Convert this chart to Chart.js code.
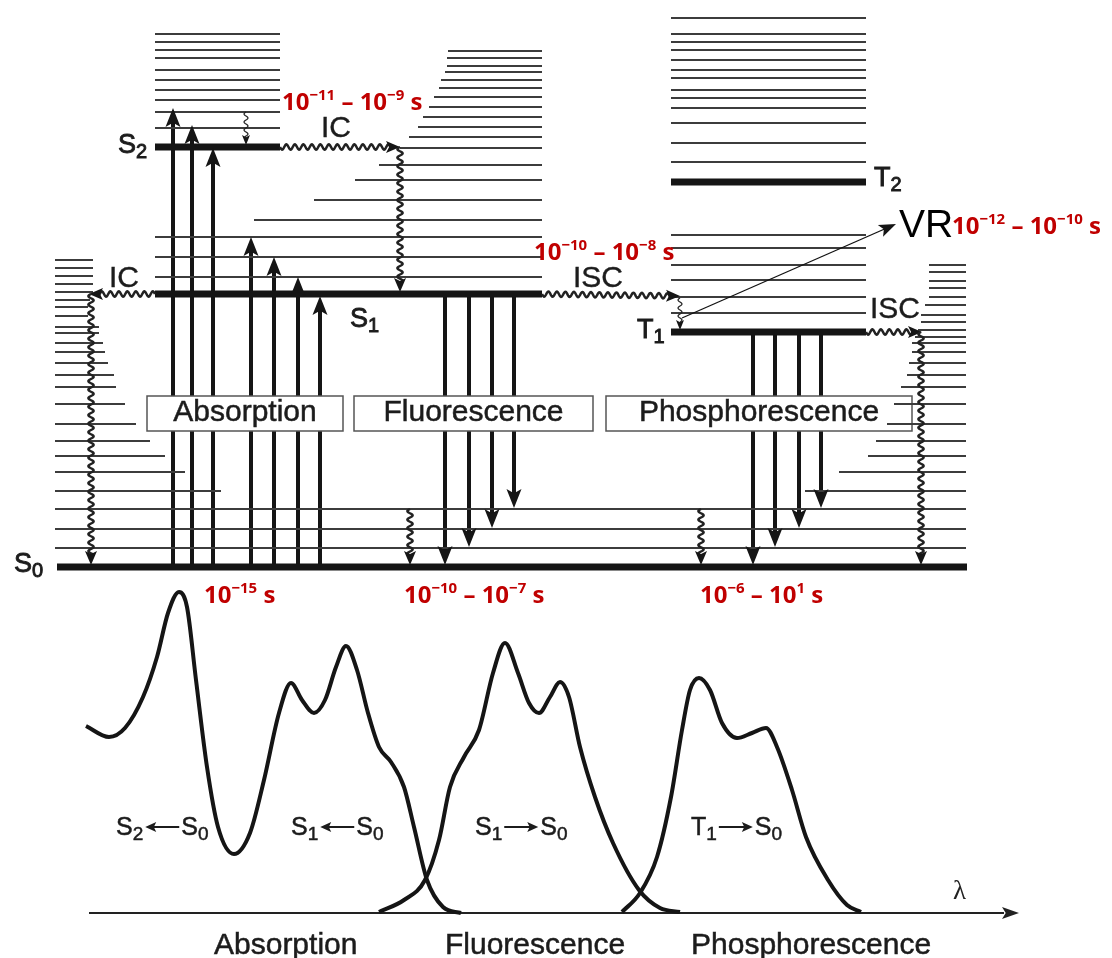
<!DOCTYPE html>
<html>
<head>
<meta charset="utf-8">
<script src="https://cdn.jsdelivr.net/npm/chart.js@4/dist/chart.umd.min.js"></script>
<style>
  html, body { margin: 0; padding: 0; background: #fff; }
  #wrap { width: 1112px; height: 958px; position: relative; }
</style>
</head>
<body>
<div id="wrap"><canvas id="jablonski"></canvas></div>
<script>
// main electronic levels (diagram units, y grows downward)
const levelNames = ["S", "S", "S", "T", "T"];
const levelSubs = ["0", "1", "2", "1", "2"];
const levelY = [567, 294, 147, 332, 182];
const levelFrom = [57, 155, 155, 671, 671];
const levelTo = [967, 542, 280, 866, 866];

// vibrational sublevels
const s2VibY = [34, 42, 50, 58, 70, 80, 90, 100, 112, 128];
const s1VibY = [51, 58, 66, 72, 80, 88, 97, 107, 117, 127, 137, 148, 165, 180, 200, 220, 237, 257, 277];
const s1VibStart = [448, 447, 447, 445, 441, 439, 434, 429, 423, 418, 409, 400, 379, 355, 314, 254, 155, 155, 155];
const t2VibY = [18, 34, 42, 50, 60, 70, 78, 90, 98, 108, 123, 143, 162];
const t1VibY = [235, 248, 265, 280, 297, 313];
const s0VibY = [509, 529, 548];
const s0LeftY = [260, 268, 276, 284, 292, 300, 307, 316, 327, 333, 343, 352, 363, 375, 387, 404, 424, 441, 456, 472, 491];
const s0LeftEnd = [93, 93, 93, 93, 93, 90, 88, 88, 99, 99, 103, 105, 108, 114, 116, 125, 136, 150, 165, 185, 221];
const s0RightY = [265, 272, 281, 288, 297, 305, 315, 322, 330, 337, 343, 352, 363, 375, 387, 404, 424, 441, 456, 472, 491];
const s0RightStart = [929, 929, 929, 929, 929, 925, 921, 921, 918, 915, 912, 912, 909, 907, 901, 894, 887, 876, 868, 839, 805];

// radiative transitions
const absorptionX = [173, 192, 213, 251, 274, 298, 320];
const absorptionTop = [108, 125, 148, 237, 257, 277, 296];
const fluorescenceX = [445, 469, 492, 514];
const fluorescenceEnd = [565, 547, 528, 508];
const phosphorescenceX = [753, 775, 799, 821];
const phosphorescenceEnd = [565, 547, 528, 508];

// non-radiative (wavy) transitions: IC, ISC, VR
const waveFrom = [[280, 147], [400, 147], [155, 294], [91, 294], [542, 294], [866, 332], [921, 332], [410, 509], [701, 509]];
const waveTo = [[400, 147], [400, 292], [89, 294], [91, 565], [680, 296], [922, 332], [921, 565], [410, 565], [701, 565]];
const vrFrom = [[246, 112], [680, 298]];
const vrTo = [[246, 145], [680, 330]];
const vrPointer = [[682, 318], [896, 224]];

// spectra
const absSpecX = [86, 109, 125, 143, 157, 168, 179, 187, 196, 207, 218, 234, 250, 264, 279, 291, 302, 314, 325, 336, 346, 357, 368, 379, 391, 404, 414, 427, 443, 461];
const absSpecY = [726, 737, 728, 697, 657, 613, 592, 607, 680, 767, 827, 854, 833, 780, 713, 683, 700, 713, 700, 667, 646, 670, 713, 747, 762, 787, 827, 880, 907, 913];
const fluSpecX = [379, 404, 425, 439, 450, 464, 479, 493, 505, 518, 529, 539, 550, 560, 569, 580, 595, 613, 639, 660, 680];
const fluSpecY = [912, 900, 880, 840, 787, 757, 730, 673, 643, 673, 703, 713, 697, 682, 697, 747, 797, 843, 890, 908, 912];
const phoSpecX = [622, 640, 657, 671, 682, 690, 699, 710, 722, 737, 752, 766, 777, 792, 806, 828, 847, 861];
const phoSpecY = [912, 893, 857, 797, 730, 690, 678, 690, 723, 738, 733, 728, 747, 790, 837, 880, 905, 912];
const axisLine = [[89, 913], [1004, 913]];

// texts
const processNames = ["Absorption", "Fluorescence", "Phosphorescence"];
const processBoxes = [[147, 396, 343, 431], [354, 396, 593, 431], [606, 396, 912, 431]];
const bottomLabelX = [214, 445, 691];
const timeExponents = [[-11, -9], [-10, -8], [-12, -10], [-15, null], [-10, -7], [-6, 1]];
const timePos = [[282, 110], [534, 260], [952, 234], [204, 603], [404, 603], [700, 603]];
const levelLabelPos = [[14, 572], [350, 327], [118, 153], [637, 338], [874, 186]];
const transferLabels = [["IC", 321, 137], ["IC", 109, 287], ["ISC", 573, 287], ["ISC", 870, 318]];
const bandLabels = [["S", "2", "left", "S", "0", 116], ["S", "1", "left", "S", "0", 291], ["S", "1", "right", "S", "0", 475], ["T", "1", "right", "S", "0", 691]];

const INK = "#151515";
const TEXT = "#1c1c1c";
const RED = "#c00000";
const SANS = "'Liberation Sans', Arial, sans-serif";

function segs(list) {
  const pts = [];
  list.forEach(([x1, y1, x2, y2]) => {
    pts.push({ x: x1, y: y1 }, { x: x2, y: y2 }, { x: null, y: null });
  });
  return pts;
}

const thinList = [];
s2VibY.forEach((y) => thinList.push([155, y, 280, y]));
s1VibY.forEach((y, i) => thinList.push([s1VibStart[i], y, 542, y]));
t2VibY.forEach((y) => thinList.push([671, y, 866, y]));
t1VibY.forEach((y) => thinList.push([671, y, 866, y]));
s0VibY.forEach((y) => thinList.push([55, y, 966, y]));
s0LeftY.forEach((y, i) => thinList.push([55, y, s0LeftEnd[i], y]));
s0RightY.forEach((y, i) => thinList.push([s0RightStart[i], y, 966, y]));

const thickList = levelY.map((y, i) => [levelFrom[i], y, levelTo[i], y]);

const shaftList = [];
absorptionX.forEach((x, i) => shaftList.push([x, 567, x, absorptionTop[i] + 10]));
fluorescenceX.forEach((x, i) => shaftList.push([x, 294, x, fluorescenceEnd[i] - 10]));
phosphorescenceX.forEach((x, i) => shaftList.push([x, 332, x, phosphorescenceEnd[i] - 10]));

function curve(xs, ys) {
  return xs.map((x, i) => ({ x: x, y: ys[i] }));
}

const lineBase = { showLine: true, pointRadius: 0, fill: false, spanGaps: false, borderCapStyle: "butt" };

const datasets = [
  Object.assign({}, lineBase, { label: "shafts", data: segs(shaftList), borderColor: INK, borderWidth: 4, order: 5 }),
  Object.assign({}, lineBase, { label: "vibrational", data: segs(thinList), borderColor: "#3c3c3c", borderWidth: 2, order: 1 }),
  Object.assign({}, lineBase, { label: "levels", data: segs(thickList), borderColor: INK, borderWidth: 7, order: 0 }),
  Object.assign({}, lineBase, { label: "absorption", data: curve(absSpecX, absSpecY), borderColor: INK, borderWidth: 4, cubicInterpolationMode: "monotone", order: 0 }),
  Object.assign({}, lineBase, { label: "fluorescence", data: curve(fluSpecX, fluSpecY), borderColor: INK, borderWidth: 4, cubicInterpolationMode: "monotone", order: 0 }),
  Object.assign({}, lineBase, { label: "phosphorescence", data: curve(phoSpecX, phoSpecY), borderColor: INK, borderWidth: 4, cubicInterpolationMode: "monotone", order: 0 }),
  Object.assign({}, lineBase, { label: "axis", data: curve(axisLine.map((p) => p[0]), axisLine.map((p) => p[1])), borderColor: "#222", borderWidth: 2, order: 0 }),
];

function head(ctx, tx, ty, dx, dy, L, W) {
  const bx = tx - dx * L, by = ty - dy * L;
  const nx = -dy, ny = dx;
  ctx.beginPath();
  ctx.moveTo(tx, ty);
  ctx.lineTo(bx + nx * W / 2, by + ny * W / 2);
  ctx.lineTo(tx - dx * L * 0.78, ty - dy * L * 0.78);
  ctx.lineTo(bx - nx * W / 2, by - ny * W / 2);
  ctx.closePath();
  ctx.fill();
}

function wavy(ctx, x1, y1, x2, y2, amp, wl) {
  const dx = x2 - x1, dy = y2 - y1, len = Math.hypot(dx, dy);
  if (len < 1) return;
  const ux = dx / len, uy = dy / len;
  ctx.beginPath();
  for (let s = 0; s <= len; s += 0.5) {
    const o = amp * Math.sin((2 * Math.PI * s) / wl);
    const X = x1 + ux * s - uy * o, Y = y1 + uy * s + ux * o;
    if (s === 0) ctx.moveTo(X, Y); else ctx.lineTo(X, Y);
  }
  ctx.stroke();
}

// text with sub/superscripts; optional faux-medium weight via thin stroke
function rich(ctx, x, y, parts, size, family, weight, subScale, heavy) {
  let cx = x;
  parts.forEach(([t, kind]) => {
    const fs = kind === "n" ? size : Math.round(size * (subScale || 0.64));
    const dy = kind === "sub" ? size * 0.2 : kind === "sup" ? -size * 0.42 : 0;
    ctx.font = `${weight} ${fs}px ${family}`;
    ctx.fillText(t, cx, y + dy);
    if (heavy) ctx.strokeText(t, cx, y + dy);
    cx += ctx.measureText(t).width;
  });
  return cx;
}

function heavyText(ctx, t, x, y) {
  ctx.fillText(t, x, y);
  ctx.strokeText(t, x, y);
}

function expText(e) {
  return e < 0 ? "\u2212" + Math.abs(e) : String(e);
}

const diagramPlugin = {
  id: "diagram",
  afterDatasetDraw(chart, args) {
    if (args.index !== 0) return;
    const { ctx } = chart;
    const px = (v) => chart.scales.x.getPixelForValue(v);
    const py = (v) => chart.scales.y.getPixelForValue(v);
    ctx.save();
    processBoxes.forEach(([x1, y1, x2, y2], i) => {
      ctx.fillStyle = "#fff";
      ctx.fillRect(px(x1), py(y1), px(x2) - px(x1), py(y2) - py(y1));
      ctx.strokeStyle = "#555";
      ctx.lineWidth = 1.5;
      ctx.strokeRect(px(x1), py(y1), px(x2) - px(x1), py(y2) - py(y1));
      ctx.fillStyle = TEXT;
      ctx.strokeStyle = TEXT;
      ctx.lineWidth = 0.5;
      ctx.font = `30px ${SANS}`;
      ctx.textAlign = "center";
      heavyText(ctx, processNames[i], (px(x1) + px(x2)) / 2, py(421));
    });
    ctx.restore();
  },
  afterDatasetsDraw(chart) {
    const { ctx } = chart;
    const px = (v) => chart.scales.x.getPixelForValue(v);
    const py = (v) => chart.scales.y.getPixelForValue(v);
    ctx.save();
    ctx.fillStyle = INK;

    // radiative arrow heads
    absorptionX.forEach((x, i) => head(ctx, px(x), py(absorptionTop[i]), 0, -1, 19, 15));
    fluorescenceX.forEach((x, i) => head(ctx, px(x), py(fluorescenceEnd[i]), 0, 1, 19, 15));
    phosphorescenceX.forEach((x, i) => head(ctx, px(x), py(phosphorescenceEnd[i]), 0, 1, 19, 15));

    // wavy non-radiative arrows
    ctx.strokeStyle = "#222";
    ctx.lineWidth = 2.5;
    waveFrom.forEach((f, i) => {
      const x1 = px(f[0]), y1 = py(f[1]), x2 = px(waveTo[i][0]), y2 = py(waveTo[i][1]);
      const len = Math.hypot(x2 - x1, y2 - y1);
      const ux = (x2 - x1) / len, uy = (y2 - y1) / len;
      wavy(ctx, x1, y1, x2 - ux * 10, y2 - uy * 10, 2.6, 8.5);
      head(ctx, x2, y2, ux, uy, 14, 12);
    });
    ctx.lineWidth = 1.2;
    vrFrom.forEach((f, i) => {
      const x1 = px(f[0]), y1 = py(f[1]), x2 = px(vrTo[i][0]), y2 = py(vrTo[i][1]);
      wavy(ctx, x1, y1, x2, y2 - 8, 2, 8);
      head(ctx, x2, y2, 0, 1, 10, 8);
    });

    // VR pointer
    ctx.strokeStyle = "#111";
    ctx.lineWidth = 1.3;
    const [a, b] = vrPointer;
    const ax = px(a[0]), ay = py(a[1]), bx = px(b[0]), by = py(b[1]);
    const pl = Math.hypot(bx - ax, by - ay);
    ctx.beginPath();
    ctx.moveTo(ax, ay);
    ctx.lineTo(bx - ((bx - ax) / pl) * 10, by - ((by - ay) / pl) * 10);
    ctx.stroke();
    head(ctx, bx, by, (bx - ax) / pl, (by - ay) / pl, 17, 13);

    // spectrum axis arrow
    ctx.fillStyle = "#222";
    head(ctx, px(1019), py(913), 1, 0, 17, 12);

    // level labels
    ctx.fillStyle = TEXT;
    ctx.strokeStyle = TEXT;
    ctx.lineWidth = 0.9;
    ctx.textAlign = "left";
    ctx.textBaseline = "alphabetic";
    levelLabelPos.forEach(([x, y], i) => {
      rich(ctx, px(x), py(y), [[levelNames[i], "n"], [levelSubs[i], "sub"]], 27, SANS, "normal", 0.74, true);
    });

    // IC / ISC
    ctx.lineWidth = 0.4;
    ctx.font = `30px ${SANS}`;
    transferLabels.forEach(([t, x, y]) => heavyText(ctx, t, px(x), py(y)));

    // VR and lambda
    ctx.font = `39px ${SANS}`;
    ctx.fillStyle = "#000";
    ctx.fillText("VR", px(899), py(237));
    ctx.fillStyle = "#222";
    ctx.font = "27px 'Liberation Serif', 'DejaVu Serif', serif";
    ctx.fillText("\u03bb", px(953), py(899));

    // band labels under spectra
    ctx.fillStyle = TEXT;
    ctx.strokeStyle = TEXT;
    bandLabels.forEach(([s1, sub1, dir, s2, sub2, x]) => {
      ctx.lineWidth = 0.5;
      let cx = rich(ctx, px(x), py(835), [[s1, "n"], [sub1, "sub"]], 25, SANS, "normal", 0.74, true);
      const x0 = cx + 2, x1 = cx + 36, yy = py(827);
      ctx.lineWidth = 2;
      ctx.beginPath();
      if (dir === "left") {
        ctx.moveTo(x0 + 8, yy); ctx.lineTo(x1, yy); ctx.stroke();
        head(ctx, x0, yy, -1, 0, 11, 10);
      } else {
        ctx.moveTo(x0, yy); ctx.lineTo(x1 - 8, yy); ctx.stroke();
        head(ctx, x1, yy, 1, 0, 11, 10);
      }
      ctx.lineWidth = 0.5;
      rich(ctx, x1 + 2, py(835), [[s2, "n"], [sub2, "sub"]], 25, SANS, "normal", 0.74, true);
    });

    // bottom process labels
    ctx.lineWidth = 0.5;
    ctx.font = `30px ${SANS}`;
    processNames.forEach((n, i) => heavyText(ctx, n, px(bottomLabelX[i]), py(954)));

    // red time scales
    ctx.fillStyle = RED;
    timeExponents.forEach(([e1, e2], i) => {
      const parts = [["10", "n"], [expText(e1), "sup"]];
      if (e2 !== null) parts.push([" \u2013 10", "n"], [expText(e2), "sup"]);
      parts.push([" s", "n"]);
      rich(ctx, px(timePos[i][0]), py(timePos[i][1]), parts, 24, "'Open Sans', 'Noto Sans', sans-serif", "bold");
    });
    ctx.restore();
  },
};

new Chart(document.getElementById("jablonski"), {
  type: "scatter",
  data: { datasets: datasets },
  options: {
    responsive: true,
    maintainAspectRatio: false,
    animation: false,
    events: [],
    layout: { padding: 0 },
    plugins: { legend: { display: false }, tooltip: { enabled: false } },
    scales: {
      x: { type: "linear", min: 0, max: 1112, display: false },
      y: { type: "linear", min: 0, max: 958, reverse: true, display: false },
    },
    elements: { point: { radius: 0 } },
  },
  plugins: [diagramPlugin],
});
</script>
</body>
</html>
